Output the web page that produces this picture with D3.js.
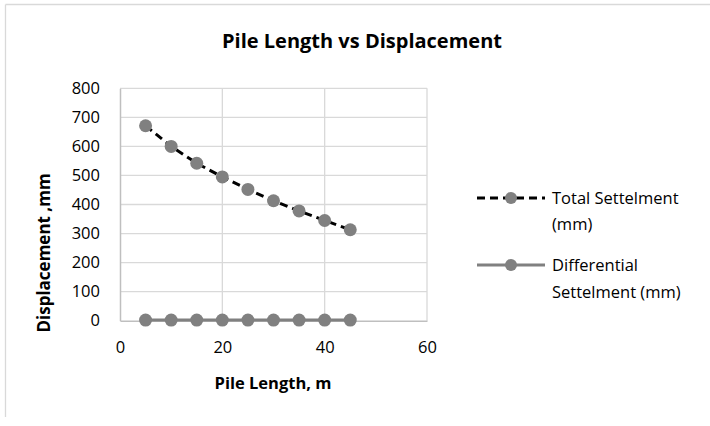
<!DOCTYPE html>
<html><head><meta charset="utf-8">
<script src="https://cdn.jsdelivr.net/npm/d3@7"></script>
<style>body{margin:0;background:#fff}svg{display:block}text{font-family:"Open Sans",sans-serif}</style>
</head><body><svg id="c" width="710" height="426"></svg>
<script>
const pileLength = [5, 10, 15, 20, 25, 30, 35, 40, 45];
const totalSettlement = [671, 600, 542, 495, 452, 413, 378, 345, 313];
const differentialSettlement = [2, 2, 2, 2, 2, 2, 2, 2, 2];
const xTicks = [0, 20, 40, 60];
const yTicks = [0, 100, 200, 300, 400, 500, 600, 700, 800];
const seriesNames = ["Total Settelment (mm)", "Differential Settelment (mm)"];

const svg = d3.select("#c");
// chart frame (left and top edges visible)
svg.append("line").attr("x1",5.5).attr("x2",5.5).attr("y1",4.5).attr("y2",417).attr("stroke","#d9d9d9").attr("stroke-width",1.3);
svg.append("line").attr("x1",5.5).attr("x2",710).attr("y1",4.5).attr("y2",4.5).attr("stroke","#d9d9d9").attr("stroke-width",1.3);

const x = d3.scaleLinear().domain([0,60]).range([120,427]);
const y = d3.scaleLinear().domain([0,800]).range([320.7,88.3]);

// grid
svg.append("g").selectAll("line").data(yTicks.slice(1)).join("line")
  .attr("x1",x(0)).attr("x2",x(60)).attr("y1",d=>y(d)).attr("y2",d=>y(d))
  .attr("stroke","#d9d9d9").attr("stroke-width",1.3);
svg.append("g").selectAll("line").data(xTicks.slice(1)).join("line")
  .attr("x1",d=>x(d)).attr("x2",d=>x(d)).attr("y1",y(0)).attr("y2",y(800))
  .attr("stroke","#d9d9d9").attr("stroke-width",1.3);

// axes
const fs = 16.5;
const yAxis = svg.append("g").attr("transform",`translate(${x(0)},0)`)
  .call(d3.axisLeft(y).tickValues(yTicks).tickSize(0).tickPadding(20));
yAxis.select(".domain").attr("stroke","#bfbfbf").attr("stroke-width",1.5);
yAxis.selectAll("text").attr("font-size",fs).attr("fill","#000").attr("font-family","Open Sans");
const xAxis = svg.append("g").attr("transform",`translate(0,${y(0)})`)
  .call(d3.axisBottom(x).tickValues(xTicks).tickSize(0).tickPadding(21));
xAxis.select(".domain").attr("stroke","#bfbfbf").attr("stroke-width",1.5);
xAxis.selectAll("text").attr("font-size",fs).attr("fill","#000").attr("font-family","Open Sans");

// titles
svg.append("text").attr("x",362).attr("y",48).attr("text-anchor","middle")
  .attr("font-size",20).attr("font-weight","bold").text("Pile Length vs Displacement");
svg.append("text").attr("x",273).attr("y",389).attr("text-anchor","middle")
  .attr("font-size",16.5).attr("font-weight","bold").text("Pile Length, m");
svg.append("text").attr("transform","translate(50,253) rotate(-90)").attr("text-anchor","middle")
  .attr("font-size",17).attr("font-weight","bold").text("Displacement ,mm");

const line = d3.line().x((d,i)=>x(pileLength[i])).y(d=>y(d));
// differential
svg.append("path").datum(differentialSettlement).attr("d",line)
  .attr("fill","none").attr("stroke","#808080").attr("stroke-width",3);
svg.append("g").selectAll("circle").data(differentialSettlement).join("circle")
  .attr("cx",(d,i)=>x(pileLength[i])).attr("cy",d=>y(d)).attr("r",6.5).attr("fill","#808080");
// total
svg.append("path").datum(totalSettlement).attr("d",line)
  .attr("fill","none").attr("stroke","#000").attr("stroke-width",3).attr("stroke-dasharray","8,5");
svg.append("g").selectAll("circle").data(totalSettlement).join("circle")
  .attr("cx",(d,i)=>x(pileLength[i])).attr("cy",d=>y(d)).attr("r",6.5).attr("fill","#808080");

// legend
const lg = svg.append("g");
lg.append("line").attr("x1",477).attr("x2",545).attr("y1",198).attr("y2",198)
  .attr("stroke","#000").attr("stroke-width",3).attr("stroke-dasharray","8,5");
lg.append("circle").attr("cx",511).attr("cy",198).attr("r",6).attr("fill","#808080");
lg.append("line").attr("x1",477).attr("x2",545).attr("y1",265).attr("y2",265)
  .attr("stroke","#808080").attr("stroke-width",3);
lg.append("circle").attr("cx",511).attr("cy",265).attr("r",6).attr("fill","#808080");
const t1 = lg.append("text").attr("font-size",fs);
t1.append("tspan").attr("x",552).attr("y",204).text("Total Settelment");
t1.append("tspan").attr("x",552).attr("y",230).text("(mm)");
const t2 = lg.append("text").attr("font-size",fs);
t2.append("tspan").attr("x",552).attr("y",271).text("Differential");
t2.append("tspan").attr("x",552).attr("y",298).text("Settelment (mm)");
</script></body></html>
